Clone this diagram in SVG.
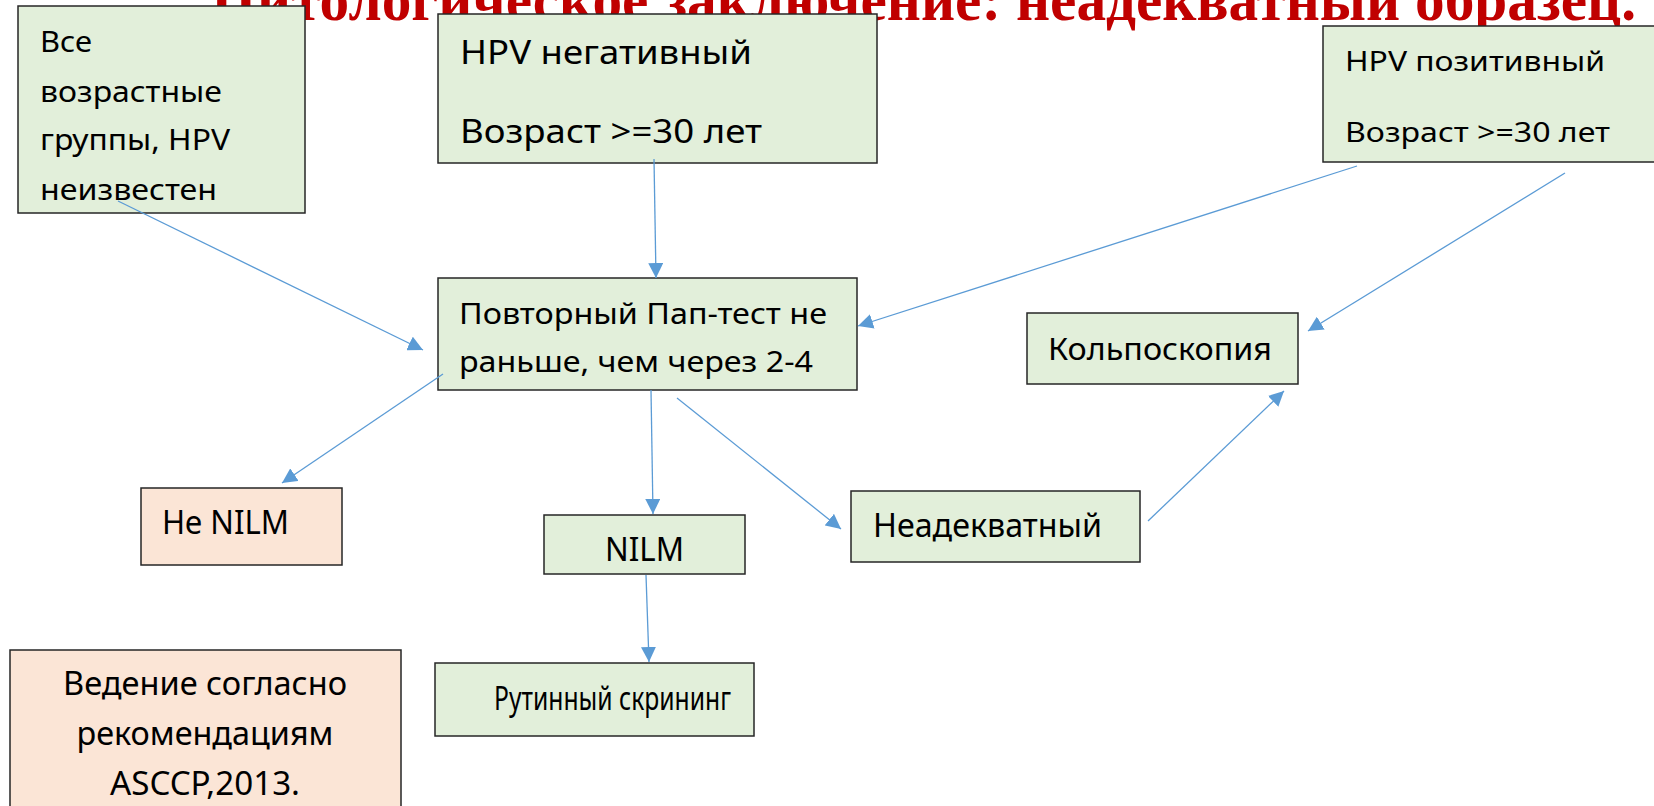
<svg xmlns="http://www.w3.org/2000/svg" width="1654" height="806" viewBox="0 0 1654 806">
<style>
.g{fill:#E2EFDA;stroke:#262626;stroke-width:1.5}
.p{fill:#FBE5D6;stroke:#262626;stroke-width:1.5}
.t{font-family:"Noto Sans","Open Sans",sans-serif;fill:#000}
.c{stroke:#5B9BD5;stroke-width:1.3;fill:none;marker-end:url(#ah)}
.title{font-family:"Liberation Serif",serif;font-weight:bold;fill:#C00000;font-size:62px}
</style>
<defs>
<marker id="ah" markerUnits="userSpaceOnUse" markerWidth="15" markerHeight="15" viewBox="0 0 15 15" refX="15" refY="7.5" orient="auto">
<path d="M0,0 L15,7.5 L0,15 z" fill="#5B9BD5"/>
</marker>
</defs>
<rect width="1654" height="806" fill="#fff"/>
<text class="title" x="211" y="20" textLength="1425" lengthAdjust="spacingAndGlyphs">Цитологическое заключение: неадекватный образец.</text>

<g id="n1">
<rect class="g" x="18" y="6" width="287" height="207"/>
<text class="t" font-size="29"><tspan x="40" y="52" textLength="52" lengthAdjust="spacingAndGlyphs">Все</tspan><tspan x="40" y="102" textLength="182" lengthAdjust="spacingAndGlyphs">возрастные</tspan><tspan x="40" y="150" textLength="190" lengthAdjust="spacingAndGlyphs">группы, HPV</tspan><tspan x="40" y="200" textLength="177" lengthAdjust="spacingAndGlyphs">неизвестен</tspan></text>
</g>
<g id="n2">
<rect class="g" x="438" y="14" width="439" height="149"/>
<text class="t" font-size="32"><tspan x="460" y="64" textLength="292" lengthAdjust="spacingAndGlyphs">HPV негативный</tspan><tspan x="460" y="143" textLength="302" lengthAdjust="spacingAndGlyphs">Возраст &gt;=30 лет</tspan></text>
</g>
<g id="n3">
<rect class="g" x="1323" y="26" width="340" height="136"/>
<text class="t" font-size="27"><tspan x="1345" y="71" textLength="260" lengthAdjust="spacingAndGlyphs">HPV позитивный</tspan><tspan x="1345" y="142" textLength="265" lengthAdjust="spacingAndGlyphs">Возраст &gt;=30 лет</tspan></text>
</g>
<g id="n4">
<rect class="g" x="438" y="278" width="419" height="112"/>
<text class="t" font-size="29"><tspan x="459" y="324" textLength="368" lengthAdjust="spacingAndGlyphs">Повторный Пап-тест не</tspan><tspan x="459" y="372" textLength="354" lengthAdjust="spacingAndGlyphs">раньше, чем через 2-4</tspan></text>
</g>
<g id="n5">
<rect class="g" x="1027" y="313" width="271" height="71"/>
<text class="t" font-size="31" x="1048" y="360" textLength="224" lengthAdjust="spacingAndGlyphs">Кольпоскопия</text>
</g>
<g id="n6">
<rect class="p" x="141" y="488" width="201" height="77"/>
<text class="t" font-size="32" x="162" y="534" textLength="127" lengthAdjust="spacingAndGlyphs">Не NILM</text>
</g>
<g id="n7">
<rect class="g" x="544" y="515" width="201" height="59"/>
<text class="t" font-size="32" x="605" y="561" textLength="79" lengthAdjust="spacingAndGlyphs">NILM</text>
</g>
<g id="n8">
<rect class="g" x="851" y="491" width="289" height="71"/>
<text class="t" font-size="32" x="873" y="537" textLength="229" lengthAdjust="spacingAndGlyphs">Неадекватный</text>
</g>
<g id="n9">
<rect class="g" x="435" y="663" width="319" height="73"/>
<text class="t" font-size="32" x="494" y="710" textLength="237" lengthAdjust="spacingAndGlyphs">Рутинный скрининг</text>
</g>
<g id="n10">
<rect class="p" x="10" y="650" width="391" height="170"/>
<text class="t" font-size="32" text-anchor="middle"><tspan x="205" y="695" textLength="284" lengthAdjust="spacingAndGlyphs">Ведение согласно</tspan><tspan x="205" y="745" textLength="257" lengthAdjust="spacingAndGlyphs">рекомендациям</tspan><tspan x="205" y="795" textLength="190" lengthAdjust="spacingAndGlyphs">ASCCP,2013.</tspan></text>
</g>

<g id="connectors">
<line class="c" x1="118" y1="201" x2="423" y2="350"/>
<line class="c" x1="654" y1="159" x2="656" y2="278"/>
<line class="c" x1="1357" y1="166" x2="858" y2="326"/>
<line class="c" x1="1565" y1="173" x2="1308" y2="331"/>
<line class="c" x1="443" y1="374" x2="282" y2="483"/>
<line class="c" x1="651" y1="390" x2="653" y2="514"/>
<line class="c" x1="677" y1="398" x2="841" y2="529"/>
<line class="c" x1="1148" y1="521" x2="1284" y2="391"/>
<line class="c" x1="646" y1="575" x2="649" y2="662"/>
</g>
</svg>
